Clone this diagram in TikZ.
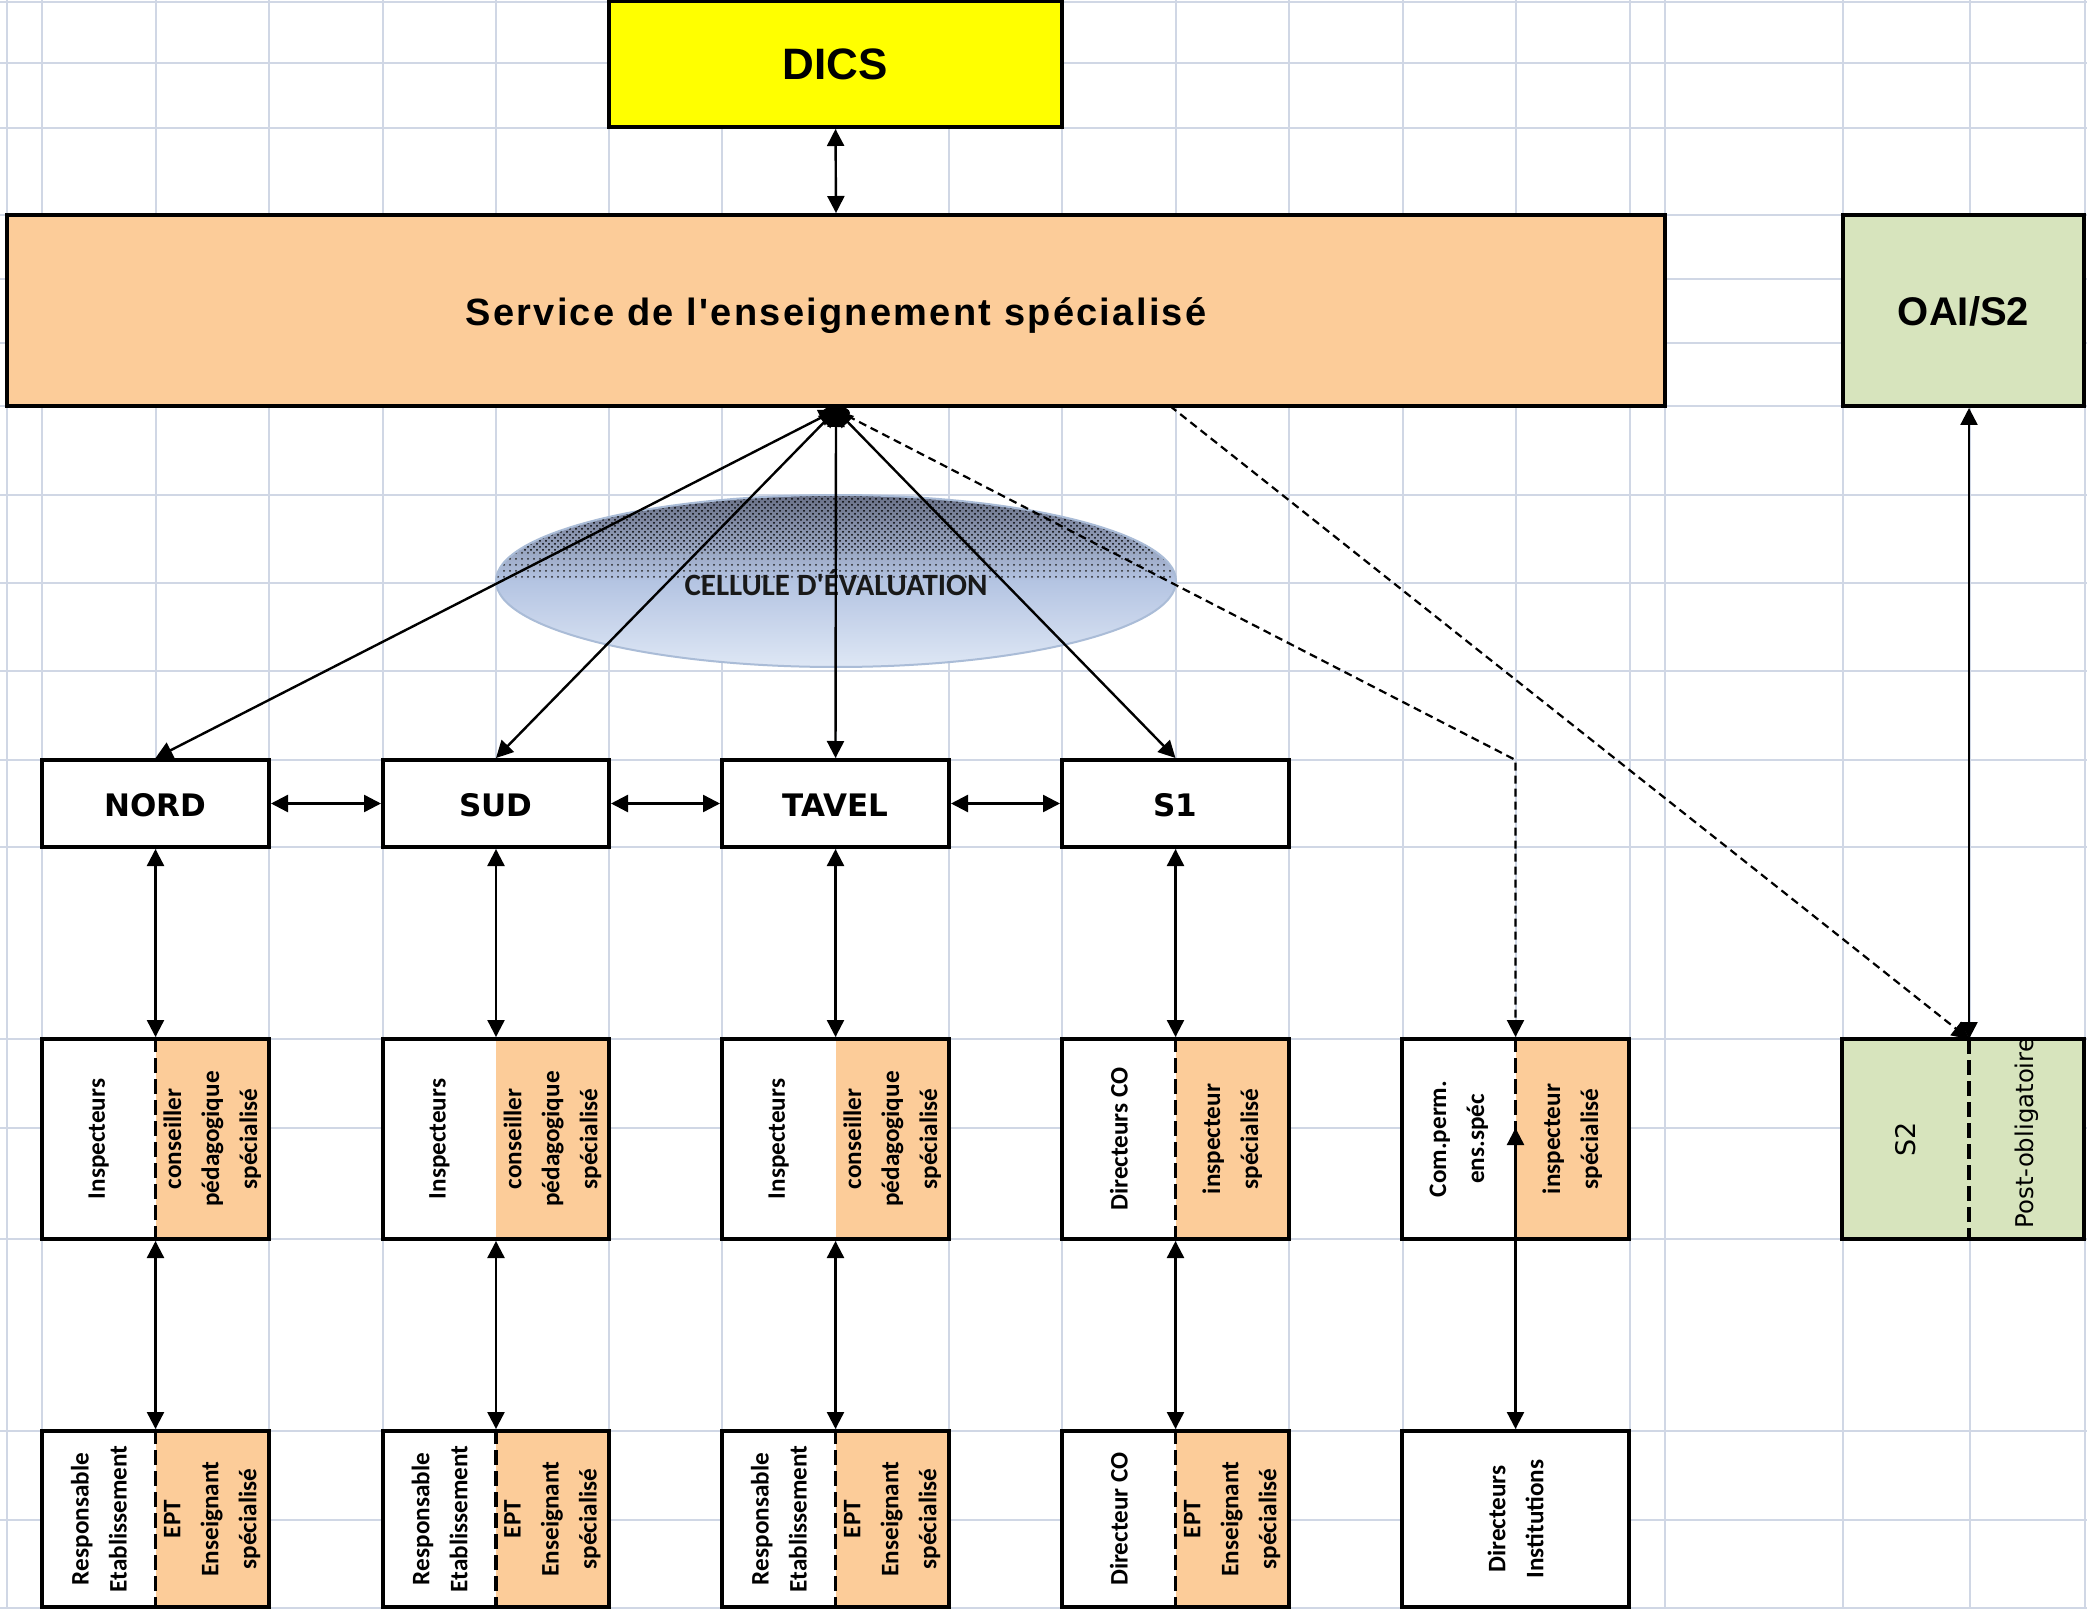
\documentclass[tikz,border=0pt]{standalone}
\usepackage{fontspec}
\usetikzlibrary{arrows.meta,fit,patterns}
\newfontfamily\fArial{Liberation Sans}
\newfontfamily\fArialSp[LetterSpace=6]{Liberation Sans}
\newfontfamily\fDejaVu{DejaVu Sans}
\newfontfamily\fCarlito{Carlito}
\newcommand\lowtxt[2]{\raisebox{-#1}[0pt][0pt]{#2}}
\definecolor{gridc}{RGB}{208,215,229}
\definecolor{orangec}{RGB}{252,204,153}
\definecolor{greenc}{RGB}{215,228,189}
\definecolor{yellowc}{RGB}{255,255,0}
\definecolor{elltop}{RGB}{105,112,135}
\definecolor{ellmid}{RGB}{180,196,226}
\definecolor{ellbot}{RGB}{222,231,245}
\definecolor{ellline}{RGB}{170,188,215}
\tikzset{
  gridl/.style={draw=gridc, line width=1pt},
  box/.style={draw=black, line width=2pt, inner sep=0pt},
  divd/.style={draw=black, line width=1.8pt, dash pattern=on 7.5pt off 3pt},
  tip/.tip={Triangle[length=8.5pt,width=8.5pt]},
  conn/.style={draw=black, line width=1.2pt, tip-tip},
  diag/.style={draw=black, line width=1.2pt, tip-tip},
  dconn/.style={draw=black, line width=1.1pt, dash pattern=on 4pt off 2.5pt, -tip},
  vtxt/.style={rotate=90, align=center, inner sep=0pt, font=\fCarlito\bfseries\fontsize{12.6}{19}\selectfont},
  ztxt/.style={font=\fDejaVu\bfseries\fontsize{15.5}{18}\selectfont},
  zone/.style={box, fill=white, minimum height=43.5pt, ztxt},
}
\begin{document}
\begin{tikzpicture}[x=0.5pt,y=-0.5pt]
\useasboundingbox (0,0) rectangle (2087,1609);
\fill[white] (0,0) rectangle (2087,1609);
% grid
\foreach \x in {7,42,156,269,383,496,609,722,836,949,1062,1176,1289,1403,1516,1630,1665,1843,1970,2085}
  \draw[gridl] (\x,0) -- (\x,1609);
\foreach \y in {2,63,128,215,279,343,406,495,583,671,760,847,1039,1128,1239,1431,1520,1608}
  \draw[gridl] (0,\y) -- (2087,\y);
% top boxes
\node[box, fill=yellowc, minimum width=226.5pt, minimum height=63pt, font=\fArial\bfseries\fontsize{22}{24}\selectfont] (dics) at (835.5,64) {DICS};
\node[box, fill=orangec, minimum width=829pt, minimum height=95.5pt, font=\fArialSp\bfseries\fontsize{19}{22}\selectfont] (ses) at (836,310.5) {\lowtxt{7.5pt}{Service de l'enseignement spécialisé}};
\node[box, fill=greenc, minimum width=120.5pt, minimum height=95.5pt, font=\fArial\bfseries\fontsize{20}{22}\selectfont] (oai) at (1963.5,310.5) {\lowtxt{7.5pt}{OAI/S2}};
% ellipse
\begin{scope}
\clip (836,581) ellipse [x radius=170pt, y radius=43pt];
\shade[top color=elltop, bottom color=ellbot, middle color=ellmid] (496,495) rectangle (1176,667);
\fill[pattern=crosshatch dots, pattern color=black] (496,495) rectangle (1176,552);
\fill[pattern=dots, pattern color=black!85] (496,552) rectangle (1176,578);
\end{scope}
\draw[ellline, line width=1pt] (836,581) ellipse [x radius=170pt, y radius=43pt];
\node[font=\fCarlito\bfseries\fontsize{15.5}{18}\selectfont, text=black!90] (cell) at (836,583) {CELLULE D'ÉVALUATION};
% region boxes
\node[zone, minimum width=113.5pt] (nord) at (155.5,803.5) {\lowtxt{6.4pt}{NORD}};
\node[zone, minimum width=113pt] (sud) at (496,803.5) {\lowtxt{6.4pt}{SUD}};
\node[zone, minimum width=113.5pt] (tavel) at (835.5,803.5) {\lowtxt{6.4pt}{TAVEL}};
\node[zone, minimum width=113.5pt] (sone) at (1175.5,803.5) {\lowtxt{6.4pt}{S1}};
% middle row fills
\fill[white] (42,1039) rectangle (155.5,1239);   \fill[orangec] (155.5,1039) rectangle (269,1239);
\fill[white] (383,1039) rectangle (496,1239);    \fill[orangec] (496,1039) rectangle (609,1239);
\fill[white] (722,1039) rectangle (835.5,1239);  \fill[orangec] (835.5,1039) rectangle (949,1239);
\fill[white] (1062,1039) rectangle (1175.5,1239);\fill[orangec] (1175.5,1039) rectangle (1289,1239);
\fill[white] (1402,1039) rectangle (1515.5,1239);\fill[orangec] (1515.5,1039) rectangle (1629,1239);
\fill[greenc] (1842,1039) rectangle (2084,1239);
\node[box, fit={(42,1039) (269,1239)}] (m1) {};
\node[box, fit={(383,1039) (609,1239)}] (m2) {};
\node[box, fit={(722,1039) (949,1239)}] (m3) {};
\node[box, fit={(1062,1039) (1289,1239)}] (m4) {};
\node[box, fit={(1402,1039) (1629,1239)}] (m5) {};
\node[box, fit={(1842,1039) (2084,1239)}] (s2) {};
\draw[divd] (m1.north) -- (m1.south);
\draw[divd] (m4.north) -- (m4.south);
\draw[divd] (m5.north) -- (m5.south);
\coordinate (s2div) at (1969,1039);
\draw[divd] (s2div) -- (s2div |- s2.south);
% bottom row fills
\fill[white] (42,1431) rectangle (155.5,1607);   \fill[orangec] (155.5,1431) rectangle (269,1607);
\fill[white] (383,1431) rectangle (496,1607);    \fill[orangec] (496,1431) rectangle (609,1607);
\fill[white] (722,1431) rectangle (835.5,1607);  \fill[orangec] (835.5,1431) rectangle (949,1607);
\fill[white] (1062,1431) rectangle (1175.5,1607);\fill[orangec] (1175.5,1431) rectangle (1289,1607);
\node[box, fit={(42,1431) (269,1607)}] (b1) {};
\node[box, fit={(383,1431) (609,1607)}] (b2) {};
\node[box, fit={(722,1431) (949,1607)}] (b3) {};
\node[box, fit={(1062,1431) (1289,1607)}] (b4) {};
\node[box, fill=white, fit={(1402,1431) (1629,1607)}] (b5) {};
\draw[divd] (b1.north) -- (b1.south);
\draw[divd] (b2.north) -- (b2.south);
\draw[divd] (b3.north) -- (b3.south);
\draw[divd] (b4.north) -- (b4.south);
% texts middle row
\node[vtxt] (t1a) at (98.75,1139) {Inspecteurs};
\node[vtxt] (t1b) at (212.25,1139) {conseiller\\pédagogique\\spécialisé};
\node[vtxt] (t2a) at (439.5,1139) {Inspecteurs};
\node[vtxt] (t2b) at (552.5,1139) {conseiller\\pédagogique\\spécialisé};
\node[vtxt] (t3a) at (778.75,1139) {Inspecteurs};
\node[vtxt] (t3b) at (892.25,1139) {conseiller\\pédagogique\\spécialisé};
\node[vtxt] (t4a) at (1118.75,1139) {Directeurs CO};
\node[vtxt] (t4b) at (1232.25,1139) {inspecteur\\spécialisé};
\node[vtxt] (t5a) at (1458.75,1139) {Com.perm.\\ens.spéc};
\node[vtxt] (t5b) at (1572.25,1139) {inspecteur\\spécialisé};
\node[rotate=90, inner sep=0pt, font=\fDejaVu\fontsize{13.5}{15}\selectfont] (t6a) at (1905.5,1139) {S2};
\node[rotate=90, inner sep=0pt, font=\fDejaVu\fontsize{12.2}{14}\selectfont] (t6b) at (2026.5,1133) {Post-obligatoire};
% texts bottom row
\node[vtxt] (u1a) at (98.75,1519) {Responsable\\Etablissement};
\node[vtxt] (u1b) at (212.25,1519) {EPT\\Enseignant\\spécialisé};
\node[vtxt] (u2a) at (439.5,1519) {Responsable\\Etablissement};
\node[vtxt] (u2b) at (552.5,1519) {EPT\\Enseignant\\spécialisé};
\node[vtxt] (u3a) at (778.75,1519) {Responsable\\Etablissement};
\node[vtxt] (u3b) at (892.25,1519) {EPT\\Enseignant\\spécialisé};
\node[vtxt] (u4a) at (1118.75,1519) {Directeur CO};
\node[vtxt] (u4b) at (1232.25,1519) {EPT\\Enseignant\\spécialisé};
\node[vtxt] (u5) at (1515.5,1519) {Directeurs\\Institutions};
% connectors
\draw[conn] (dics.south) -- (ses.north);
\coordinate (hub) at (836,410);
\fill[black] (836,413) ellipse [x radius=7pt, y radius=3.5pt];
\draw[diag] (hub) -- (nord.north);
\draw[diag] (hub) -- (sud.north);
\draw[diag] (hub) -- (tavel.north);
\draw[diag] (hub) -- (sone.north);
\draw[conn] (nord.east) -- (sud.west);
\draw[conn] (sud.east) -- (tavel.west);
\draw[conn] (tavel.east) -- (sone.west);
\draw[conn] (nord.south) -- (m1.north);
\draw[conn] (sud.south) -- (m2.north);
\draw[conn] (tavel.south) -- (m3.north);
\draw[conn] (sone.south) -- (m4.north);
\draw[conn] (m1.south) -- (b1.north);
\draw[conn] (m2.south) -- (b2.north);
\draw[conn] (m3.south) -- (b3.north);
\draw[conn] (m4.south) -- (b4.north);
\coordinate (bend) at (1515.5,760);
\draw[dconn] (hub) -- (bend) -- (m5.north);
\coordinate (m5in) at (1515.5,1128);
\draw[conn] (b5.north) -- (m5in);
\coordinate (sesd) at (1170,406);
\draw[dconn] (sesd) -- (s2div);
\draw[conn] (oai.south -| s2div) -- (s2div);
\end{tikzpicture}
\end{document}
